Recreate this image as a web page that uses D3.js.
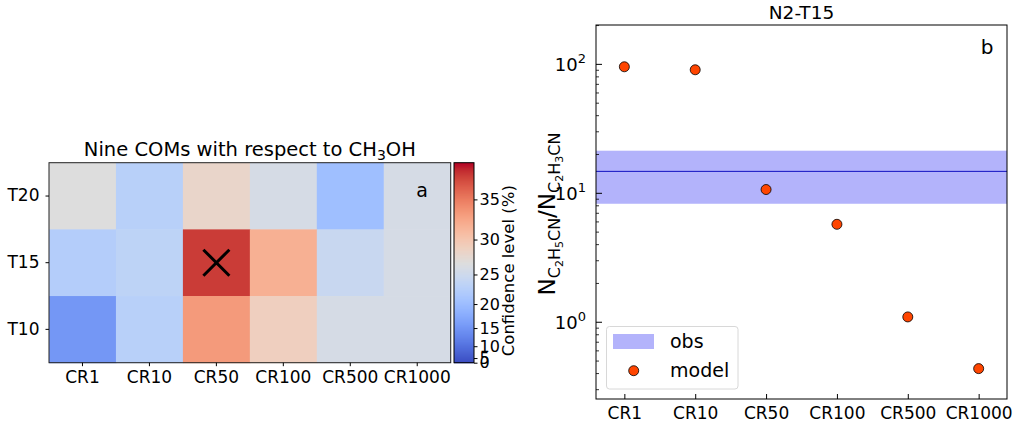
<!DOCTYPE html>
<html>
<head>
<meta charset="utf-8">
<script src="https://cdn.jsdelivr.net/npm/d3@7"></script>
<style>
  body { margin: 0; background: #fff; }
  svg { font-family: "DejaVu Sans", sans-serif; }
</style>
</head>
<body>
<div id="chart"></div>
<script>
// ---- data ----
const crLabels = ["CR1", "CR10", "CR50", "CR100", "CR500", "CR1000"]
const tLabels = ["T20", "T15", "T10"]
const confT20 = [26.8, 22.9, 28.2, 25.9, 20.3, 25.9]
const confT15 = [22.5, 23.4, 37.8, 31.9, 24.5, 25.9]
const confT10 = [15.3, 22.9, 33.4, 29.0, 25.9, 25.9]
const cbarTicks = [0, 5, 10, 15, 20, 25, 30, 35]
const bestFit = { cr: "CR50", t: "T15" }

const ratioModel = [95.8, 90.8, 10.7, 5.75, 1.10, 0.437]
const obsRatio = 14.8
const obsLow = 8.3
const obsHigh = 21.4
const yTickPowers = [0, 1, 2]

// coolwarm colormap stops (evenly spaced)
const coolwarm = ["#3b4cc0","#445acc","#4d68d7","#5775e1","#6282ea","#6c8ef1","#779af7","#82a5fb",
  "#8db0fe","#98b9ff","#a3c2ff","#aec9fd","#b8d0f9","#c2d5f4","#ccd9ee","#d5dbe6","#dddddd",
  "#e5d8d1","#ecd3c5","#f1ccb9","#f5c4ad","#f7bba0","#f7b194","#f7a687","#f49a7b","#f18d6f",
  "#ec7f63","#e57058","#de604d","#d55042","#cb3e38","#c0282f","#b40426"]

const W = 1018, H = 424
const FONT = "DejaVu Sans"
const svg = d3.select("#chart").append("svg").attr("width", W).attr("height", H)

// ---- left panel: heatmap ----
const hm = { left: 49, right: 450.7, top: 162.7, bottom: 362.7 }
const vmax = 39.1
const norm = d3.scalePow().exponent(1.83).domain([0, vmax]).range([0, 1]).clamp(true)
const cmap = d3.scaleLinear()
  .domain(d3.range(coolwarm.length).map(i => i / (coolwarm.length - 1)))
  .range(coolwarm)
  .interpolate(d3.interpolateRgb)
const colorOf = v => cmap(norm(v))

const xh = d3.scaleBand().domain(crLabels).range([hm.left, hm.right])
const yh = d3.scaleBand().domain(tLabels).range([hm.top, hm.bottom])

const rows = { T20: confT20, T15: confT15, T10: confT10 }
const cells = []
tLabels.forEach(t => rows[t].forEach((v, i) => cells.push({ t: t, cr: crLabels[i], v: v })))

svg.append("g").selectAll("rect").data(cells).join("rect")
  .attr("x", d => xh(d.cr))
  .attr("y", d => yh(d.t))
  .attr("width", xh.bandwidth() + 0.5)
  .attr("height", yh.bandwidth() + 0.5)
  .attr("fill", d => colorOf(d.v))

// best fit cross
const cx = xh(bestFit.cr) + xh.bandwidth() / 2, cy = yh(bestFit.t) + yh.bandwidth() / 2
const cs = 13
svg.append("path")
  .attr("d", `M${cx - cs},${cy - cs}L${cx + cs},${cy + cs}M${cx - cs},${cy + cs}L${cx + cs},${cy - cs}`)
  .attr("stroke", "#000").attr("stroke-width", 3).attr("fill", "none")

svg.append("rect")
  .attr("x", hm.left).attr("y", hm.top)
  .attr("width", hm.right - hm.left).attr("height", hm.bottom - hm.top)
  .attr("fill", "none").attr("stroke", "#222").attr("stroke-width", 1)

const hxAxis = svg.append("g").attr("transform", `translate(0,${hm.bottom})`)
  .call(d3.axisBottom(xh).tickSize(3.5).tickPadding(5))
hxAxis.attr("font-family", FONT)
hxAxis.select(".domain").remove()
hxAxis.selectAll("text").attr("font-size", 17).attr("fill", "#000")

const hyAxis = svg.append("g").attr("transform", `translate(${hm.left},0)`)
  .call(d3.axisLeft(yh).tickSize(3.5).tickPadding(6))
hyAxis.attr("font-family", FONT)
hyAxis.select(".domain").remove()
hyAxis.selectAll("text").attr("font-size", 17).attr("fill", "#000")

const title1 = svg.append("text").attr("x", (hm.left + hm.right) / 2).attr("y", 156)
  .attr("text-anchor", "middle").attr("font-size", 19.5)
title1.append("tspan").text("Nine COMs with respect to CH")
title1.append("tspan").attr("font-size", 14).attr("dy", 4).text("3")
title1.append("tspan").attr("dy", -4).text("OH")

svg.append("text").attr("x", 422).attr("y", 197).attr("text-anchor", "middle")
  .attr("font-size", 19).text("a")

// colorbar
const cb = { left: 454, right: 474 }
const ycb = d3.scalePow().exponent(1.83).domain([0, vmax]).range([hm.bottom, hm.top])
const nSteps = 200
svg.append("g").selectAll("rect").data(d3.range(nSteps)).join("rect")
  .attr("x", cb.left)
  .attr("y", i => hm.bottom - (i + 1) * (hm.bottom - hm.top) / nSteps)
  .attr("width", cb.right - cb.left)
  .attr("height", (hm.bottom - hm.top) / nSteps + 0.6)
  .attr("fill", i => cmap((i + 0.5) / nSteps))
svg.append("rect").attr("x", cb.left).attr("y", hm.top)
  .attr("width", cb.right - cb.left).attr("height", hm.bottom - hm.top)
  .attr("fill", "none").attr("stroke", "#000").attr("stroke-width", 1)
const cbAxis = svg.append("g").attr("transform", `translate(${cb.right},0)`)
  .call(d3.axisRight(ycb).tickValues(cbarTicks).tickSize(3.5).tickPadding(2))
cbAxis.attr("font-family", FONT)
cbAxis.select(".domain").remove()
cbAxis.selectAll("text").attr("font-size", 16).attr("fill", "#000")
svg.append("text")
  .attr("transform", `translate(514,${(hm.top + hm.bottom) / 2 + 8}) rotate(-90)`)
  .attr("text-anchor", "middle").attr("font-size", 16.5).text("Confidence level (%)")

// ---- right panel: ratio vs CR ----
const rp = { left: 596, right: 1007, top: 25, bottom: 399 }
const xr = d3.scalePoint().domain(crLabels).range([rp.left, rp.right]).padding(0.4)
const yr = d3.scaleLog().domain([0.254, 202]).range([rp.bottom, rp.top])

svg.append("rect")
  .attr("x", rp.left).attr("y", yr(obsHigh))
  .attr("width", rp.right - rp.left).attr("height", yr(obsLow) - yr(obsHigh))
  .attr("fill", "#b3b3fb")
svg.append("line")
  .attr("x1", rp.left).attr("x2", rp.right)
  .attr("y1", yr(obsRatio)).attr("y2", yr(obsRatio))
  .attr("stroke", "#1010c0").attr("stroke-width", 1)

svg.append("g").selectAll("circle").data(ratioModel).join("circle")
  .attr("cx", (d, i) => xr(crLabels[i]))
  .attr("cy", d => yr(d))
  .attr("r", 5)
  .attr("fill", "#ff4500").attr("stroke", "#000").attr("stroke-width", 0.8)

// frame
svg.append("rect")
  .attr("x", rp.left).attr("y", rp.top)
  .attr("width", rp.right - rp.left).attr("height", rp.bottom - rp.top)
  .attr("fill", "none").attr("stroke", "#000").attr("stroke-width", 1)

// x axis, inward ticks
const rxAxis = svg.append("g").attr("transform", `translate(0,${rp.bottom})`)
  .call(d3.axisBottom(xr).tickSize(-5).tickPadding(8))
rxAxis.attr("font-family", FONT)
rxAxis.select(".domain").remove()
rxAxis.selectAll("text").attr("font-size", 17).attr("fill", "#000")

// y axis, log, inward ticks
const minorTicks = []
for (let p = -1; p <= 2; p++) {
  for (let m = 2; m <= 9; m++) {
    const v = m * Math.pow(10, p)
    if (v >= yr.domain()[0] && v <= yr.domain()[1]) minorTicks.push(v)
  }
}
svg.append("g").selectAll("line").data(minorTicks).join("line")
  .attr("x1", rp.left).attr("x2", rp.left + 3)
  .attr("y1", d => yr(d)).attr("y2", d => yr(d))
  .attr("stroke", "#000").attr("stroke-width", 0.8)
svg.append("g").selectAll("line").data(yTickPowers).join("line")
  .attr("x1", rp.left).attr("x2", rp.left + 6)
  .attr("y1", d => yr(Math.pow(10, d))).attr("y2", d => yr(Math.pow(10, d)))
  .attr("stroke", "#000").attr("stroke-width", 1)
const yLabs = svg.append("g").selectAll("text").data(yTickPowers).join("text")
  .attr("x", rp.left - 10)
  .attr("y", d => yr(Math.pow(10, d)) + 7)
  .attr("text-anchor", "end").attr("font-size", 18)
yLabs.append("tspan").text("10")
yLabs.append("tspan").attr("font-size", 13).attr("dy", -8).text(d => d)

// y label with nested subscripts
const yl = svg.append("text")
  .attr("transform", `translate(555,${(rp.top + rp.bottom) / 2 + 2}) rotate(-90)`)
  .attr("text-anchor", "middle").attr("font-size", 23)
const subShift = [0, 5, 8]
const subSize = [23, 16, 11]
let cur = 0
;[["N", 0], ["C", 1], ["2", 2], ["H", 1], ["5", 2], ["CN", 1], ["/N", 0],
  ["C", 1], ["2", 2], ["H", 1], ["3", 2], ["CN", 1]].forEach(([t, lvl]) => {
  yl.append("tspan").attr("font-size", subSize[lvl]).attr("dy", subShift[lvl] - cur).text(t)
  cur = subShift[lvl]
})

svg.append("text").attr("x", (rp.left + rp.right) / 2).attr("y", 19)
  .attr("text-anchor", "middle").attr("font-size", 18.5).text("N2-T15")
svg.append("text").attr("x", 987).attr("y", 54).attr("text-anchor", "middle")
  .attr("font-size", 20).text("b")

// legend
const lg = svg.append("g")
lg.append("rect").attr("x", 606.5).attr("y", 326.5).attr("width", 131.5).attr("height", 62.5)
  .attr("rx", 3).attr("fill", "#fff").attr("fill-opacity", 0.8)
  .attr("stroke", "#d8d8d8").attr("stroke-width", 1)
lg.append("rect").attr("x", 613).attr("y", 334).attr("width", 41).attr("height", 15)
  .attr("fill", "#b3b3fb")
lg.append("circle").attr("cx", 633.7).attr("cy", 370.7).attr("r", 5)
  .attr("fill", "#ff4500").attr("stroke", "#000").attr("stroke-width", 0.8)
lg.append("text").attr("x", 670).attr("y", 348).attr("font-size", 19).text("obs")
lg.append("text").attr("x", 670).attr("y", 377).attr("font-size", 19).text("model")
</script>
</body>
</html>
